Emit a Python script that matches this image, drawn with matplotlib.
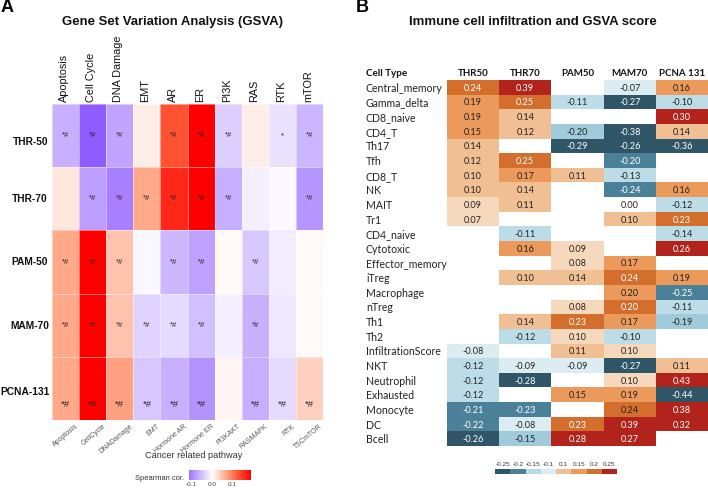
import matplotlib
matplotlib.use("Agg")
import matplotlib.pyplot as plt
import numpy as np
from matplotlib.colors import BoundaryNorm, LinearSegmentedColormap, ListedColormap, Normalize

W, H = 708, 488

# panel A
pathways_top = ["Apoptosis", "Cell Cycle", "DNA Damage", "EMT", "AR", "ER", "PI3K", "RAS", "RTK", "mTOR"]
pathways_bottom = ["Apoptosis", "CellCycle", "DNADamage", "EMT", "Hormone AR", "Hormone ER",
                   "PI3KAKT", "RASMAPK", "RTK", "TSCmTOR"]
signatures = ["THR-50", "THR-70", "PAM-50", "MAM-70", "PCNA-131"]

thr_50_cor = [-0.064, -0.133, -0.075, 0.013, 0.127, 0.19, -0.04, 0.013, -0.025, -0.06]
thr_70_cor = [0.018, -0.08, -0.105, 0.065, 0.16, 0.19, -0.066, -0.012, -0.005, -0.085]
pam_50_cor = [0.065, 0.19, 0.045, -0.006, -0.058, -0.078, 0.004, -0.045, -0.015, 0.003]
mam_70_cor = [0.065, 0.19, 0.045, -0.037, -0.03, -0.052, -0.012, -0.065, -0.02, 0.003]
pcna_131_cor = [0.065, 0.19, 0.07, -0.047, -0.064, -0.088, 0.007, -0.066, -0.03, 0.035]

thr_50_sig = ["*#", "*#", "*#", "", "*#", "*#", "*#", "", "*", "*#"]
thr_70_sig = ["", "*#", "*#", "*#", "*#", "*#", "*#", "", "", "*#"]
pam_50_sig = ["*#", "*#", "*#", "", "*#", "*#", "", "*#", "", ""]
mam_70_sig = ["*#", "*#", "*#", "*#", "*#", "*#", "", "*#", "", ""]
pcna_131_sig = ["*#", "*#", "*#", "*#", "*#", "*#", "", "*#", "*#", "*#"]

# panel B
cell_types = ["Central_memory", "Gamma_delta", "CD8_naive", "CD4_T", "Th17", "Tfh", "CD8_T", "NK", "MAIT",
              "Tr1", "CD4_naive", "Cytotoxic", "Effector_memory", "iTreg", "Macrophage", "nTreg", "Th1",
              "Th2", "InfiltrationScore", "NKT", "Neutrophil", "Exhausted", "Monocyte", "DC", "Bcell"]
score_names = ["THR50", "THR70", "PAM50", "MAM70", "PCNA 131"]

n = np.nan
thr50 = [.24, .19, .19, .152, .14, .12, .104, .104, .09, .07, n, n, n, n, n, n, n, n,
         -.08, -.12, -.12, -.12, -.21, -.22, -.26]
thr70 = [.39, .248, .14, .12, n, .248, .17, .14, .11, n, -.11, .16, n, .104, n, n, .14, -.12,
         n, -.09, -.28, n, -.23, -.08, -.152]
pam50 = [n, -.11, n, -.198, -.29, n, .11, n, n, n, n, .09, .08, .14, n, .08, .23, .096,
         .11, -.09, n, .152, n, .23, .28]
mam70 = [-.07, -.27, n, -.38, -.26, -.204, -.13, -.24, 0.0, .104, n, n, .17, .24, .198, .204, .17, -.104,
         .096, -.27, .096, .19, .24, .39, .27]
pcna131 = [.16, -.104, .30, .14, -.36, n, n, .16, -.12, .23, -.14, .26, n, .19, -.249, -.11, -.19, n,
           n, .11, .43, -.44, .38, .32, n]

legend_ticks = ["-0.25", "-0.2", "-0.15", "-0.1", "0.1", "0.15", "0.2", "0.25"]


def px_axes(x0, y0, x1, y1):
    return fig.add_axes([x0 / W, 1 - y1 / H, (x1 - x0) / W, (y1 - y0) / H])


def px_text(x, y, s, **kw):
    fig.text(x / W, 1 - y / H, s, **kw)


plt.rcParams["font.family"] = ["Liberation Sans", "DejaVu Sans"]
fig = plt.figure(figsize=(W / 100, H / 100), dpi=100)
lato = ["Lato", "DejaVu Sans"]

# ---- A ----
cor = np.array([thr_50_cor, thr_70_cor, pam_50_cor, mam_70_cor, pcna_131_cor])
sig = [thr_50_sig, thr_70_sig, pam_50_sig, mam_70_sig, pcna_131_sig]
# red side goes through orange tones like the reference legend
cmap_a = LinearSegmentedColormap.from_list(
    "spearman",
    [(0.0, "#5f18ff"), (0.5, "#ffffff"), (0.67, "#ffa98a"), (0.83, "#ff5533"), (1.0, "#ff0000")])
norm_a = Normalize(-0.19, 0.19)

ax = px_axes(52, 104, 323, 420)
ax.pcolormesh(cor, cmap=cmap_a, norm=norm_a, edgecolors=(1, 1, 1, 0.45), linewidth=0.6)
ax.set_ylim(5, 0)
ax.set_xlim(0, 10)
for side in ax.spines.values():
    side.set_visible(False)
ax.set_xticks([])
ax.set_yticks([])

for i, name in enumerate(pathways_top):
    ax.text(i + 0.45, 1.007, name, transform=ax.get_xaxis_transform(), rotation=90,
            ha="center", va="bottom", fontsize=7.8, color="#111111")
for i, name in enumerate(pathways_bottom):
    ax.annotate(name, (i + 0.5, 0), xycoords=("data", "axes fraction"), xytext=(7, -2),
                textcoords="offset points", rotation=40, ha="right", va="top", rotation_mode="anchor",
                fontsize=5, color="#555555")
px_text(193.5, 456, "Cancer related pathway", fontsize=6.6, color="#333333", va="center", ha="center")

label_shift = [6, 0, 0, 1, 4]
label_gap = [4, 4, 4, 3, 2]
for r, name in enumerate(signatures):
    ax.annotate(name, (0, r + 0.5), xycoords=("axes fraction", "data"),
                xytext=(-label_gap[r] * 0.72, -label_shift[r] * 0.72),
                textcoords="offset points", ha="right", va="center", fontsize=7.4, fontweight="bold", color="#111111")
    for c, mark in enumerate(sig[r]):
        if not mark:
            continue
        if r == 4:
            ax.annotate(mark, (c + 0.5, r + 0.5), xytext=(0, -11.5), textcoords="offset points",
                        ha="center", va="center", fontsize=6.8, color="#222222")
        else:
            ax.text(c + 0.5, r + 0.5, mark, ha="center", va="center", fontsize=5.5, color="#222222")

cax = px_axes(189, 470, 251, 480)
grad = np.linspace(-0.112, 0.19, 120)
cax.pcolormesh(grad, [0, 1], grad[:-1].reshape(1, -1), cmap=cmap_a, norm=norm_a)
cax.set_yticks([])
cax.set_xticks([-0.1, 0.0, 0.1])
cax.set_xticklabels(["-0.1", "0.0", "0.1"], fontsize=4.6, color="#444444")
cax.tick_params(length=0, pad=1.5)
for side in cax.spines.values():
    side.set_visible(False)

px_text(135, 479, "Spearman cor.", fontsize=5.4, color="#333333", va="center", ha="left")
px_text(1, 8, "A", fontsize=13, fontweight="bold", va="center", ha="left")
px_text(173, 22, "Gene Set Variation Analysis (GSVA)", fontsize=9.45, fontweight="bold",
        va="center", ha="center", color="#111111")

# ---- B ----
scores = np.array([thr50, thr70, pam50, mam70, pcna131]).T
edges = [-1, -0.25, -0.2, -0.15, -0.1, -0.001, 0.001, 0.1, 0.15, 0.2, 0.25, 1]
colors_b = ["#2f5566", "#4a8199", "#9fcbdb", "#bcdde7", "#dcedf2", "#ffffff",
            "#f6d8bd", "#f1bf94", "#ec9a5b", "#d46e2c", "#b2231b"]
cmap_b = ListedColormap(colors_b)
cmap_b.set_bad("#ffffff")
norm_b = BoundaryNorm(edges, cmap_b.N)

ax2 = px_axes(447, 80, 708, 446)
ax2.pcolormesh(np.ma.masked_invalid(scores), cmap=cmap_b, norm=norm_b)
ax2.set_ylim(25, 0)
ax2.set_xlim(0, 5)
for side in ax2.spines.values():
    side.set_visible(False)
ax2.set_xticks([])
ax2.set_yticks([])

dark_text_cells = [("Monocyte", "MAM70")]
for r, cell in enumerate(cell_types):
    px_text(366, 80 + 14.64 * (r + 0.5), cell, family=lato, fontsize=7.6,
            color="#222222", va="center_baseline", ha="left")
    for c, col in enumerate(score_names):
        v = scores[r, c]
        if np.isnan(v):
            continue
        light = (v <= -0.2 or v >= 0.2) and (cell, col) not in dark_text_cells
        ax2.text(c + 0.5, r + 0.5, f"{v:.2f}", family=lato, fontsize=6.6,
                 ha="center", va="center_baseline", color="#ffffff" if light else "#222222")

for c, col in enumerate(score_names):
    ax2.text(c + 0.5, 1.005, col, transform=ax2.get_xaxis_transform(), family=lato,
             fontsize=7, fontweight="bold", ha="center", va="bottom", color="#111111")
px_text(366, 74, "Cell Type", family=lato, fontsize=7.1, fontweight="bold",
        va="center", ha="left", color="#111111")

lax = px_axes(495, 469, 617, 474)
legend_colors = ["#2f5566", "#4a8199", "#b5dae5", "#dcedf2", "#f1bf94", "#ec9a5b", "#d46e2c", "#b2231b"]
lax.pcolormesh(np.arange(8).reshape(1, -1), cmap=ListedColormap(legend_colors))
lax.set_yticks([])
lax.xaxis.tick_top()
lax.set_xticks(np.arange(8) + 0.5)
lax.set_xticklabels(legend_ticks, fontsize=4.6, color="#333333")
lax.tick_params(length=0, pad=1.5)
for side in lax.spines.values():
    side.set_visible(False)

px_text(356, 8, "B", fontsize=13, fontweight="bold", va="center", ha="left")
px_text(533, 22, "Immune cell infiltration and GSVA score", fontsize=9.45, fontweight="bold",
        va="center", ha="center", color="#111111")

fig.savefig("out.png", dpi=100)
